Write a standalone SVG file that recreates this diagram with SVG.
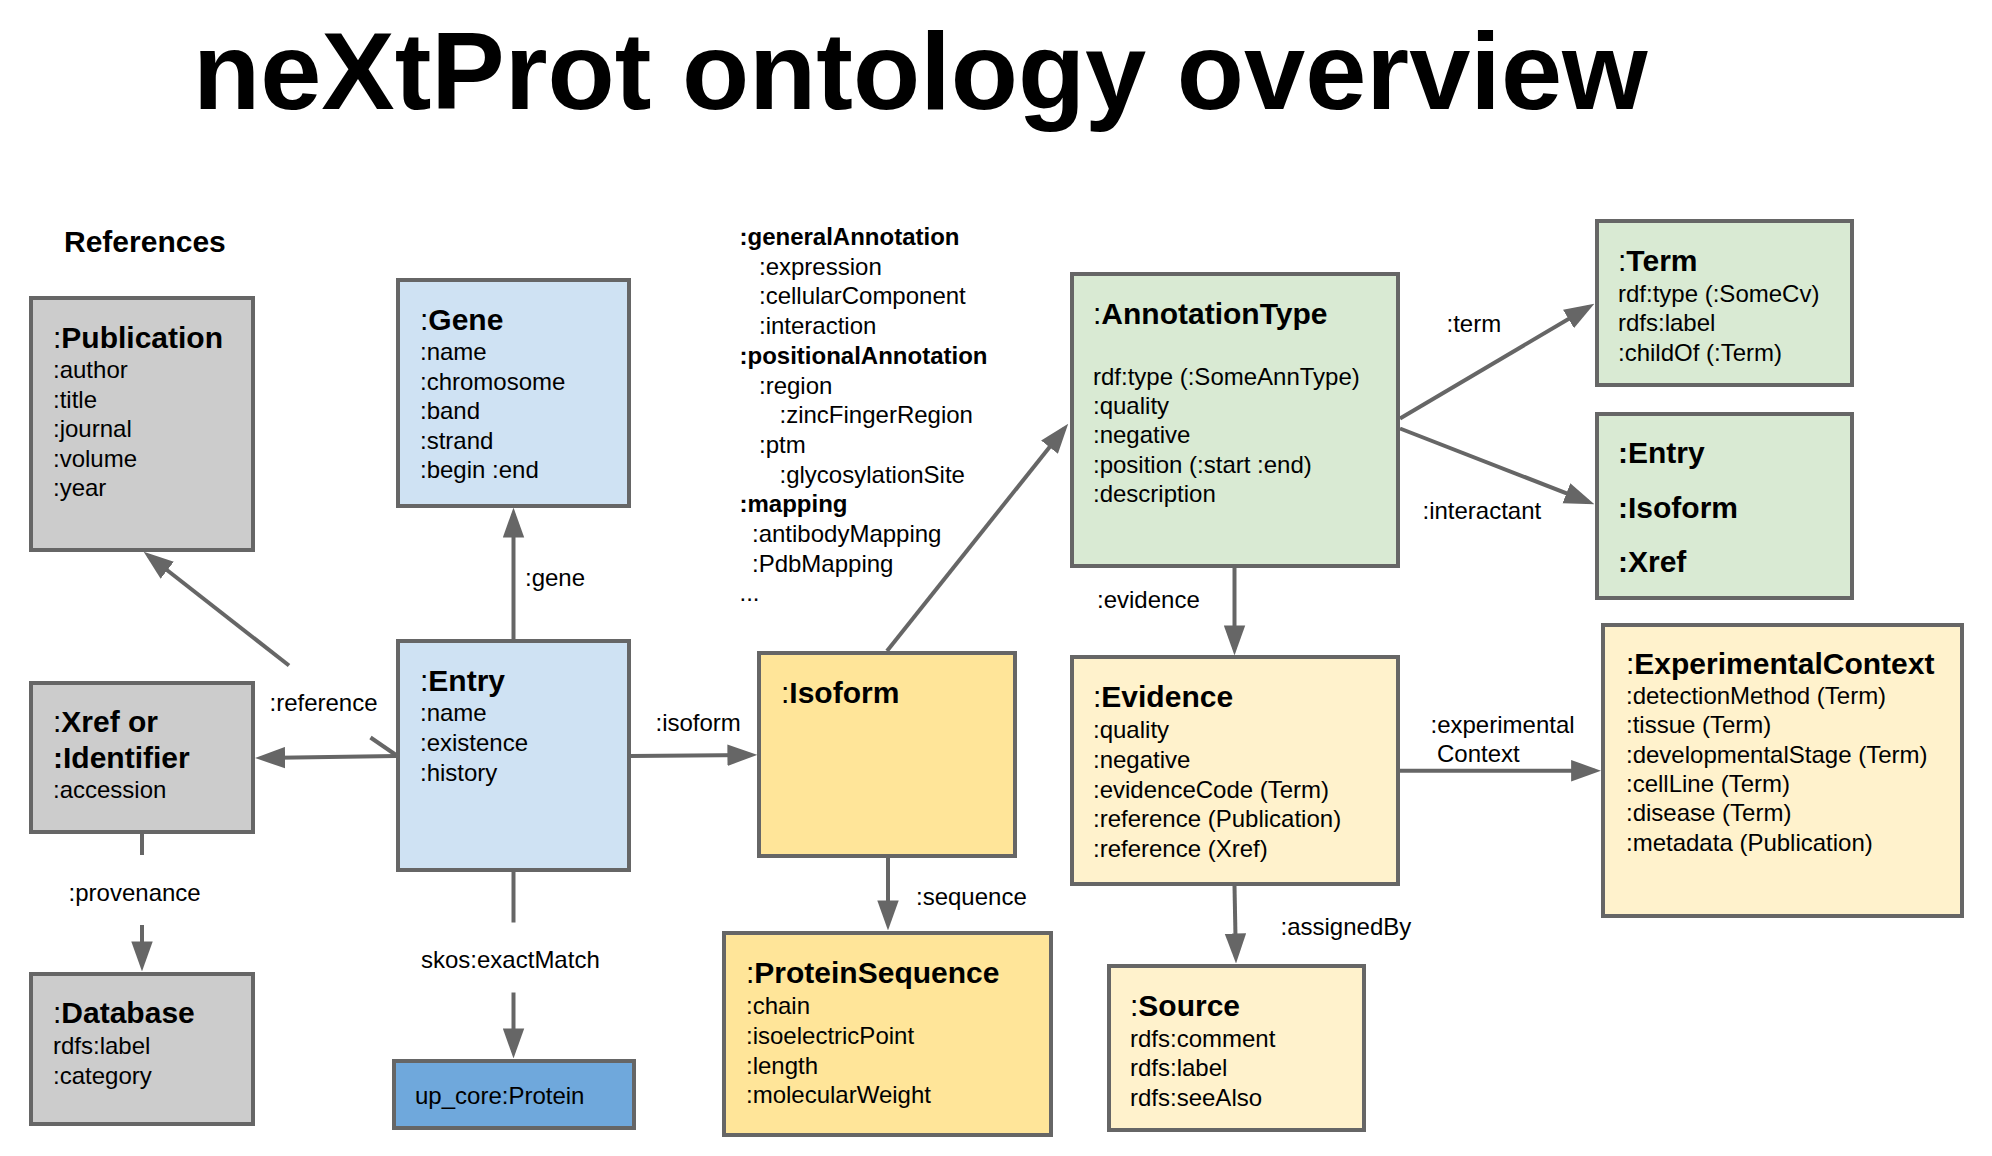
<svg xmlns="http://www.w3.org/2000/svg" width="1992" height="1156" viewBox="0 0 1992 1156">
<defs>
<style>
text{font-family:"Liberation Sans",Arial,Helvetica,sans-serif;font-size:24px;fill:#000}
.t{font-size:30px}
.b{font-weight:bold}
.box{stroke:#666666;stroke-width:4}
.gray{fill:#cccccc}.blue{fill:#cfe2f3}.dblue{fill:#6fa8dc}.green{fill:#d9ead3}.yel{fill:#ffe599}.lyel{fill:#fff2cc}
.edge{fill:none;stroke:#666666;stroke-width:4;marker-end:url(#arr)}
.seg{fill:none;stroke:#666666;stroke-width:4}
</style>
<marker id="arr" markerUnits="userSpaceOnUse" markerWidth="30" markerHeight="22" refX="22" refY="10" orient="auto" viewBox="0 0 28 20">
<path d="M0,0 L28,10 L0,20 z" fill="#666666"/>
</marker>
</defs>
<rect width="1992" height="1156" fill="#ffffff"/>
<text x="193" y="109" class="b" style="font-size:110px">neXtProt ontology overview</text>
<text x="64" y="251.5" class="b" style="font-size:30px">References</text>

<g id="connectors">
<path class="edge" d="M513.5,639 L513.5,514"/>
<path class="edge" d="M396,756 L261.5,758"/>
<path class="seg" d="M396,755 L370.5,737.5"/>
<path class="edge" d="M289,665.5 L148.7,555.7"/>
<path class="edge" d="M631,756 L751,755"/>
<path class="edge" d="M887,651 L1064.2,428.7"/>
<path class="edge" d="M888,858 L888,924"/>
<path class="seg" d="M513.5,871 L513.5,922.5"/>
<path class="edge" d="M513.5,992.5 L513.5,1052"/>
<path class="seg" d="M142,834 L142,855"/>
<path class="edge" d="M142,925 L142,965"/>
<path class="edge" d="M1234.5,568 L1234.5,649"/>
<path class="edge" d="M1234.5,886 L1235.9,957"/>
<path class="edge" d="M1400,418.5 L1588.8,307"/>
<path class="edge" d="M1400,428.5 L1588.4,501.8"/>
<path class="edge" d="M1400,770.7 L1594.7,770.7"/>
<text x="525" y="586">:gene</text>
<text x="269.5" y="711">:reference</text>
<text x="655.5" y="731">:isoform</text>
<text x="68.6" y="901">:provenance</text>
<text x="421" y="967.5">skos:exactMatch</text>
<text x="916" y="905">:sequence</text>
<text x="1097" y="607.5">:evidence</text>
<text x="1280.5" y="934.5">:assignedBy</text>
<text x="1446.5" y="332">:term</text>
<text x="1422.5" y="519">:interactant</text>
<text x="1430.5" y="733">:experimental</text>
<text x="1437" y="762">Context</text>
</g>

<g id="annotation-list">
<text x="739.5" y="245" class="b">:generalAnnotation</text>
<text x="759" y="274.7">:expression</text>
<text x="759" y="304.4">:cellularComponent</text>
<text x="759" y="334.1">:interaction</text>
<text x="739.5" y="363.8" class="b">:positionalAnnotation</text>
<text x="759" y="393.5">:region</text>
<text x="779.5" y="423.2">:zincFingerRegion</text>
<text x="759" y="452.9">:ptm</text>
<text x="779.5" y="482.6">:glycosylationSite</text>
<text x="739.5" y="512.3" class="b">:mapping</text>
<text x="752" y="542">:antibodyMapping</text>
<text x="752" y="571.7">:PdbMapping</text>
<text x="739.5" y="600.5">...</text>
</g>

<g id="publication">
<rect class="box gray" x="31" y="298" width="222" height="252"/>
<text x="53" y="348" class="t">:<tspan class="b">Publication</tspan></text>
<text x="53" y="378">:author</text>
<text x="53" y="407.5">:title</text>
<text x="53" y="437">:journal</text>
<text x="53" y="466.5">:volume</text>
<text x="53" y="496">:year</text>
</g>

<g id="gene">
<rect class="box blue" x="398" y="280" width="231" height="226"/>
<text x="420" y="329.5" class="t">:<tspan class="b">Gene</tspan></text>
<text x="420" y="360">:name</text>
<text x="420" y="389.5">:chromosome</text>
<text x="420" y="419">:band</text>
<text x="420" y="448.5">:strand</text>
<text x="420" y="478">:begin :end</text>
</g>

<g id="xref">
<rect class="box gray" x="31" y="683" width="222" height="149"/>
<text x="53" y="732" class="t">:<tspan class="b">Xref or</tspan></text>
<text x="53" y="768" class="t b">:Identifier</text>
<text x="53" y="798">:accession</text>
</g>

<g id="entry">
<rect class="box blue" x="398" y="641" width="231" height="229"/>
<text x="420" y="691" class="t">:<tspan class="b">Entry</tspan></text>
<text x="420" y="721">:name</text>
<text x="420" y="751">:existence</text>
<text x="420" y="781">:history</text>
</g>

<g id="database">
<rect class="box gray" x="31" y="974" width="222" height="150"/>
<text x="53" y="1022.5" class="t">:<tspan class="b">Database</tspan></text>
<text x="53" y="1053.5">rdfs:label</text>
<text x="53" y="1084">:category</text>
</g>

<g id="protein">
<rect class="box dblue" x="394" y="1061" width="240" height="67"/>
<text x="415" y="1104">up_core:Protein</text>
</g>

<g id="isoform">
<rect class="box yel" x="759" y="653" width="256" height="203"/>
<text x="781" y="703" class="t">:<tspan class="b">Isoform</tspan></text>
</g>

<g id="proteinsequence">
<rect class="box yel" x="724" y="933" width="327" height="202"/>
<text x="746" y="983" class="t">:<tspan class="b">ProteinSequence</tspan></text>
<text x="746" y="1013.5">:chain</text>
<text x="746" y="1043.5">:isoelectricPoint</text>
<text x="746" y="1073.5">:length</text>
<text x="746" y="1103">:molecularWeight</text>
</g>

<g id="annotationtype">
<rect class="box green" x="1072" y="274" width="326" height="292"/>
<text x="1093" y="323.5" class="t">:<tspan class="b">AnnotationType</tspan></text>
<text x="1093" y="385">rdf:type (:SomeAnnType)</text>
<text x="1093" y="414">:quality</text>
<text x="1093" y="443">:negative</text>
<text x="1093" y="472.5">:position (:start :end)</text>
<text x="1093" y="502">:description</text>
</g>

<g id="term">
<rect class="box green" x="1597" y="221" width="255" height="164"/>
<text x="1618" y="271" class="t">:<tspan class="b">Term</tspan></text>
<text x="1618" y="301.5">rdf:type (:SomeCv)</text>
<text x="1618" y="331">rdfs:label</text>
<text x="1618" y="360.5">:childOf (:Term)</text>
</g>

<g id="interactant-targets">
<rect class="box green" x="1597" y="414" width="255" height="184"/>
<text x="1618" y="463" class="t b">:Entry</text>
<text x="1618" y="518" class="t b">:Isoform</text>
<text x="1618" y="572" class="t b">:Xref</text>
</g>

<g id="evidence">
<rect class="box lyel" x="1072" y="657" width="326" height="227"/>
<text x="1093" y="707" class="t">:<tspan class="b">Evidence</tspan></text>
<text x="1093" y="738">:quality</text>
<text x="1093" y="768">:negative</text>
<text x="1093" y="797.5">:evidenceCode (Term)</text>
<text x="1093" y="827">:reference (Publication)</text>
<text x="1093" y="857">:reference (Xref)</text>
</g>

<g id="source">
<rect class="box lyel" x="1109" y="966" width="255" height="164"/>
<text x="1130" y="1016" class="t">:<tspan class="b">Source</tspan></text>
<text x="1130" y="1046.5">rdfs:comment</text>
<text x="1130" y="1076">rdfs:label</text>
<text x="1130" y="1105.5">rdfs:seeAlso</text>
</g>

<g id="experimentalcontext">
<rect class="box lyel" x="1603" y="625" width="359" height="291"/>
<text x="1626" y="674" class="t">:<tspan class="b">ExperimentalContext</tspan></text>
<text x="1626" y="703.5">:detectionMethod (Term)</text>
<text x="1626" y="733">:tissue (Term)</text>
<text x="1626" y="762.5">:developmentalStage (Term)</text>
<text x="1626" y="792">:cellLine (Term)</text>
<text x="1626" y="821">:disease (Term)</text>
<text x="1626" y="850.5">:metadata (Publication)</text>
</g>
</svg>
